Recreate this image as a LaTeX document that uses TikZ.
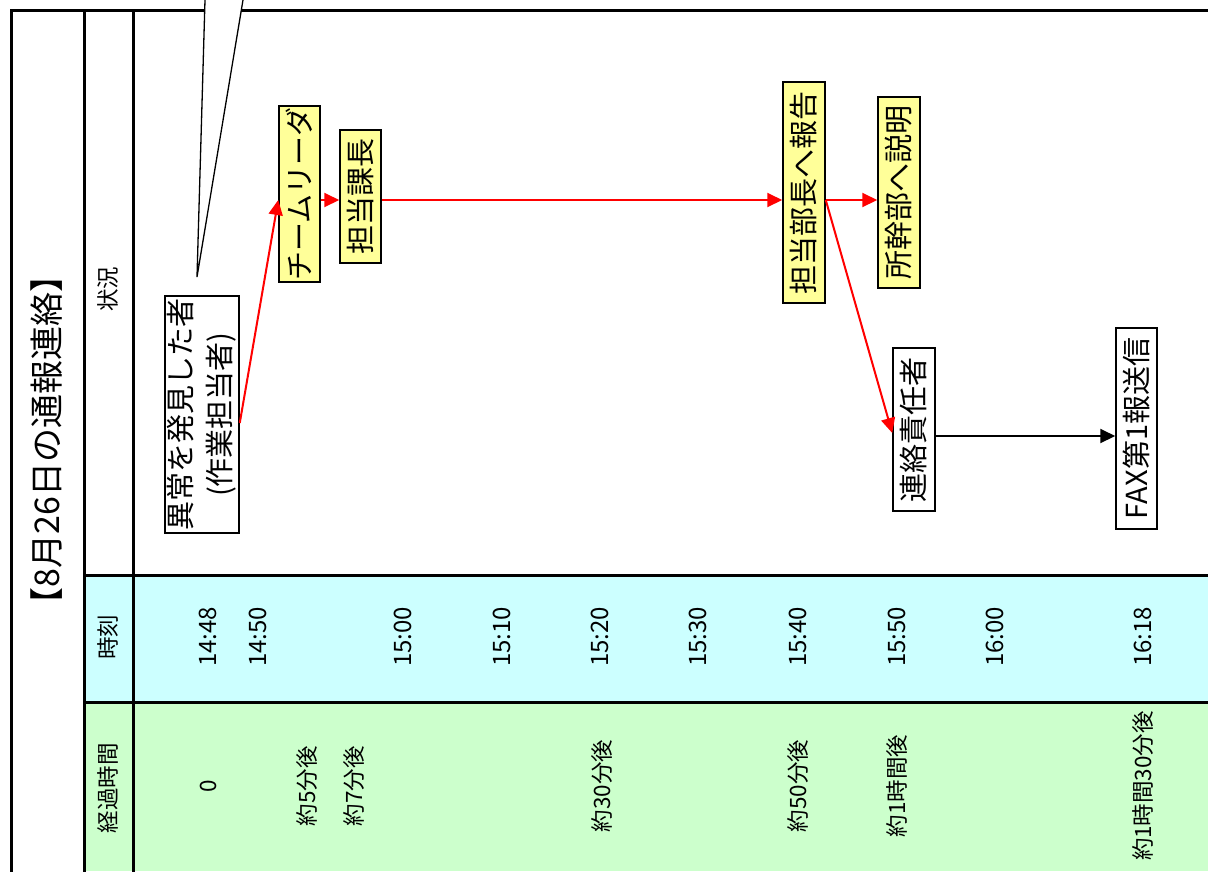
\documentclass[tikz,border=0pt]{standalone}
\usepackage{fontspec}
\setmainfont{Noto Sans CJK JP}
\usetikzlibrary{arrows.meta,positioning}
\definecolor{timecyan}{RGB}{204,255,255}
\definecolor{elapsedgreen}{RGB}{204,255,204}
\definecolor{noteyellow}{RGB}{255,255,153}

\begin{document}
\begin{tikzpicture}[
  x=1pt, y=-1pt,
  frame/.style={line width=3pt, line cap=rect},
  cell/.style={rotate=90, inner sep=0pt, font=\fontsize{22.5}{27}\selectfont},
  box/.style={rectangle, draw=black, line width=1.5pt, fill=white, rotate=90, inner sep=0pt, align=center, font=\fontsize{29}{39}\selectfont},
  notebox/.style={box, fill=noteyellow},
  arrow/.style={-{Triangle[length=15pt,width=14pt]}, line width=2pt},
  redarrow/.style={arrow, red}
  ]
  \useasboundingbox (0,0) rectangle (1208,871);

  % Table
  \fill[timecyan] (84,575.5) rectangle (1208,702);
  \fill[elapsedgreen] (84,702) rectangle (1208,871);
  \draw[frame] (11,871) -- (11,10) -- (1208,10);
  \draw[frame] (84,10) -- (84,871);
  \draw[frame] (133.5,10) -- (133.5,871);
  \draw[frame] (84,575.5) -- (1208,575.5);
  \draw[frame] (84,702) -- (1208,702);

  % Headings
  \node[rotate=90, font=\fontsize{34}{38}\selectfont] (title) at (47,440) {【8月26日の通報連絡】};
  \node[cell] (hstate) at (108,289) {状況};
  \node[cell] (htime) at (108,637) {時刻};
  \node[cell] (helapsed) at (108,788) {経過時間};

  % Times and elapsed times
  \foreach \x/\t in {208/14:48, 258/14:50, 403/15:00, 502/15:10, 600/15:20, 698/15:30, 798/15:40, 897/15:50, 995/16:00, 1143/16:18}
    \node[cell, font=\fontsize{24}{28}\selectfont] (time\x) at (\x,637) {\t};
  \foreach \x/\t in {208/0, 307/約5分後, 354/約7分後, 602/約30分後, 798/約50分後, 897/約1時間後, 1143/約1時間30分後}
    \node[cell] (elapsed\x) at (\x,786) {\t};

  % Callout tail
  \coordinate (tailtip) at (197,277);
  \fill[white] (205,0) -- (tailtip) -- (243,0) -- cycle;
  \draw[line width=1.3pt] (205,0) -- (tailtip) -- (243,0);

  % Nodes
  \node[box, minimum width=237pt, minimum height=74pt] (finder) at (202,414.5) {異常を発見した者\\(作業担当者)};
  \node[notebox, minimum width=176pt, minimum height=41pt] (leader) at (299.5,194) {チームリーダ};
  \node[notebox, minimum width=133pt, minimum height=41pt] (kacho) at (360.5,196.5) {担当課長};
  \node[notebox, minimum width=221pt, minimum height=42pt] (bucho) at (804,192.5) {担当部長へ報告};
  \node[notebox, minimum width=191pt, minimum height=42pt] (shokan) at (899,192.5) {所幹部へ説明};
  \node[box, minimum width=163pt, minimum height=42pt] (renraku) at (914,429.5) {連絡責任者};
  \node[box, minimum width=201pt, minimum height=41pt] (fax) at (1136.5,428.5) {FAX第1報送信};

  % Arrows
  \coordinate (toprow) at (0,200);
  \coordinate (faxrow) at (0,436);
  \draw[redarrow] (finder.south |- 0,423) -- (leader.north |- toprow);
  \draw[redarrow] (leader.south |- toprow) -- (kacho.north |- toprow);
  \draw[redarrow] (kacho.south |- toprow) -- (bucho.north |- toprow);
  \draw[redarrow] (bucho.south |- toprow) -- (shokan.north |- toprow);
  \draw[redarrow] (bucho.south |- toprow) -- (renraku.north |- 0,433);
  \draw[arrow] (renraku.south |- faxrow) -- (fax.north |- faxrow);
\end{tikzpicture}
\end{document}
